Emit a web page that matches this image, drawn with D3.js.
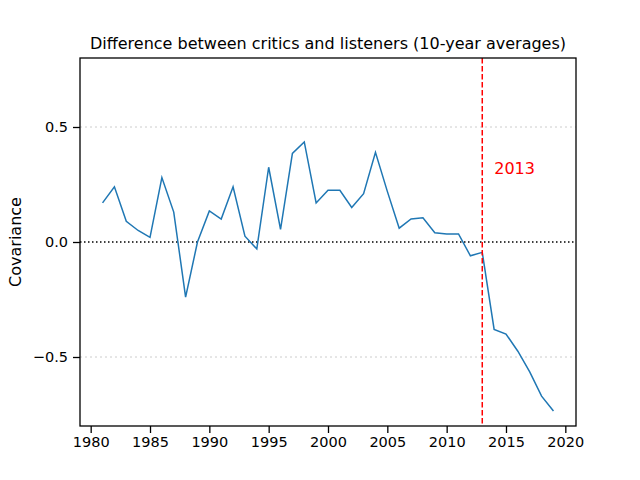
<!DOCTYPE html>
<html><head><meta charset="utf-8">
<script src="https://cdn.jsdelivr.net/npm/d3@7"></script>
<style>body{margin:0;background:#fff}svg{font-family:"DejaVu Sans",sans-serif}</style>
</head><body><div id="chart"></div>
<script>
var years = d3.range(1981, 2020);
var covariance = [0.17,0.24,0.09,0.05,0.02,0.28,0.13,-0.24,0.0,0.135,0.10,0.24,0.025,-0.03,0.325,0.055,0.385,0.435,0.17,0.225,0.225,0.15,0.21,0.39,0.22,0.06,0.10,0.105,0.04,0.035,0.035,-0.06,-0.045,-0.38,-0.40,-0.475,-0.565,-0.67,-0.735];
var xTicks = [1980,1985,1990,1995,2000,2005,2010,2015,2020];
var yTicks = [-0.5,0,0.5];
var markYear = 2013;

var chart = {left:80, top:58, w:496, h:368};
var svg = d3.select('#chart').append('svg').attr('width',640).attr('height',480)
  .append('g').attr('transform','translate(' + chart.left + ',' + chart.top + ')');

var x = d3.scaleLinear().domain([1979.1, 2020.9]).range([0, chart.w]);
var y = d3.scaleLinear().domain([-0.8, 0.8]).range([chart.h, 0]);

// grid at +-0.5
svg.selectAll('.grid').data([-0.5,0.5]).enter().append('line')
  .attr('x1',0).attr('x2',chart.w).attr('y1',d=>y(d)).attr('y2',d=>y(d))
  .attr('stroke','#ccc').attr('stroke-dasharray','2,3');
svg.append('line').attr('x1',0).attr('x2',chart.w).attr('y1',y(0)).attr('y2',y(0))
  .attr('stroke','#000').attr('stroke-width',1.5).attr('stroke-dasharray','1.5,2.5');

svg.append('path').datum(covariance)
  .attr('fill','none').attr('stroke','#1f77b4').attr('stroke-width',1.5)
  .attr('d', d3.line().x((d,i)=>x(years[i])).y(d=>y(d)));

svg.append('line').attr('x1',x(markYear)).attr('x2',x(markYear)).attr('y1',0).attr('y2',chart.h)
  .attr('stroke','red').attr('stroke-width',1.5).attr('stroke-dasharray','5.5,2.5');
svg.append('text').attr('x',x(markYear)+12).attr('y',y(0.3)+1).attr('fill','red')
  .attr('font-size',16).text(markYear);

var fmt = d => d < 0 ? '\u2212' + d3.format('.1f')(-d) : d3.format('.1f')(d);
var xa = svg.append('g').attr('transform','translate(0,' + chart.h + ')')
  .call(d3.axisBottom(x).tickValues(xTicks).tickFormat(d3.format('d')).tickSize(7).tickPadding(4));
var ya = svg.append('g').call(d3.axisLeft(y).tickValues(yTicks).tickFormat(fmt).tickSize(7).tickPadding(5));
[xa,ya].forEach(a=>{
  a.attr('font-size',null).attr('font-family',null);
  a.select('.domain').remove();
  a.selectAll('.tick line').attr('stroke-width',1.3);
  a.selectAll('text').style('font-size','14.5px').style('font-family','DejaVu Sans');
});

svg.append('rect').attr('width',chart.w).attr('height',chart.h).attr('fill','none').attr('stroke','#000').attr('stroke-width',1.3);

svg.append('text').attr('x',chart.w/2).attr('y',-9).attr('text-anchor','middle').style('font-size','16px')
  .text('Difference between critics and listeners (10-year averages)');
svg.append('text').attr('transform','translate(-59,' + chart.h/2 + ') rotate(-90)')
  .attr('text-anchor','middle').style('font-size','16px').text('Covariance');
</script></body></html>
